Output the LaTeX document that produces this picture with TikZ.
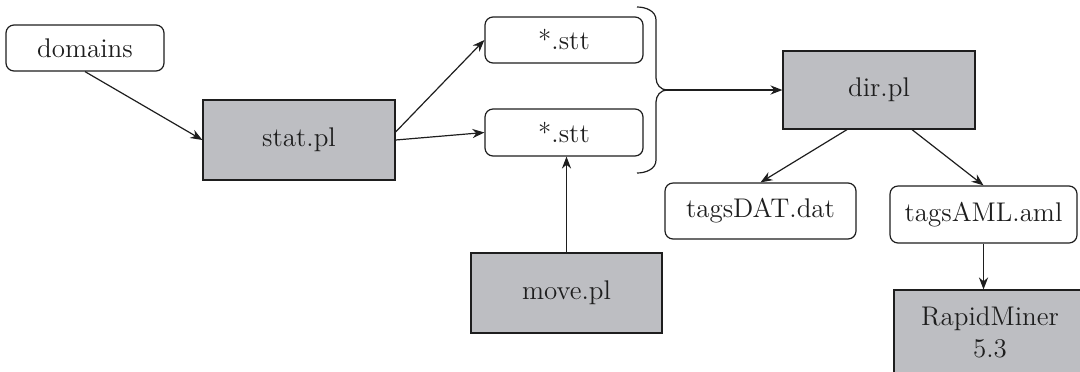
\documentclass[tikz,border=0pt]{standalone}
\usetikzlibrary{arrows.meta,calc}
\definecolor{boxgray}{RGB}{189,190,194}
\definecolor{ink}{RGB}{30,30,30}
\begin{document}
\begin{tikzpicture}[x=0.5pt,y=-0.5pt,
  every node/.style={font=\fontsize{13.5}{16}\selectfont, text=ink},
  filebox/.style={draw=ink, line width=0.6pt, rounded corners=4pt, fill=white, inner sep=0pt},
  progbox/.style={draw=ink, line width=0.6pt, fill=boxgray, inner sep=0pt},
  conn/.style={draw=ink, line width=0.6pt, -{Stealth[length=6pt,width=4.6pt]}}]
\useasboundingbox (0,0) rectangle (1080,371);
\clip (0,0) rectangle (1080,371);
\node[filebox, minimum width=79pt, minimum height=23pt] (domains) at (85,48) {domains};
\node[progbox, minimum width=96pt, minimum height=40pt] (stat) at (299,140) {stat.pl};
\node[filebox, minimum width=79pt, minimum height=23pt] (stt1) at (564,40) {*.stt};
\node[filebox, minimum width=79pt, minimum height=23.5pt] (stt2) at (564,132.5) {*.stt};
\node[progbox, minimum width=95.5pt, minimum height=40pt] (move) at (566.5,293) {move.pl};
\node[progbox, minimum width=96pt, minimum height=39pt] (dir) at (879,90) {dir.pl};
\node[filebox, minimum width=95.5pt, minimum height=28pt] (dat) at (760.5,211) {tagsDAT.dat};
\node[filebox, minimum width=93.5pt, minimum height=28.5pt] (aml) at (983.5,214.5) {tagsAML.aml};
\node[progbox, minimum width=96pt, minimum height=42pt, align=center] (rm) at (990,332) {RapidMiner\\5.3};
% brace
\draw[ink, line width=0.6pt] (637,7) to[out=0,in=90] (656,20) -- (656,78) to[out=-90,in=180] (667,90)
  to[out=180,in=90] (656,102) -- (656,160) to[out=-90,in=0] (637,173);
\coordinate (bt) at (666,90);
% connectors
\draw[conn] (domains.south) -- (stat.west);
\draw[conn] ($(stat.east)+(0,-8)$) -- (stt1.west);
\draw[conn] (stat.east) -- (stt2.west);
\draw[conn] (move.north) -- (move.north |- stt2.south);
\draw[conn] (bt) -- (dir.west);
\draw[conn] ($(dir.south)+(-32,0)$) -- (dat.north);
\draw[conn] ($(dir.south)+(33,0)$) -- (aml.north);
\draw[conn] (aml.south) -- (aml.south |- rm.north);
\end{tikzpicture}
\end{document}
